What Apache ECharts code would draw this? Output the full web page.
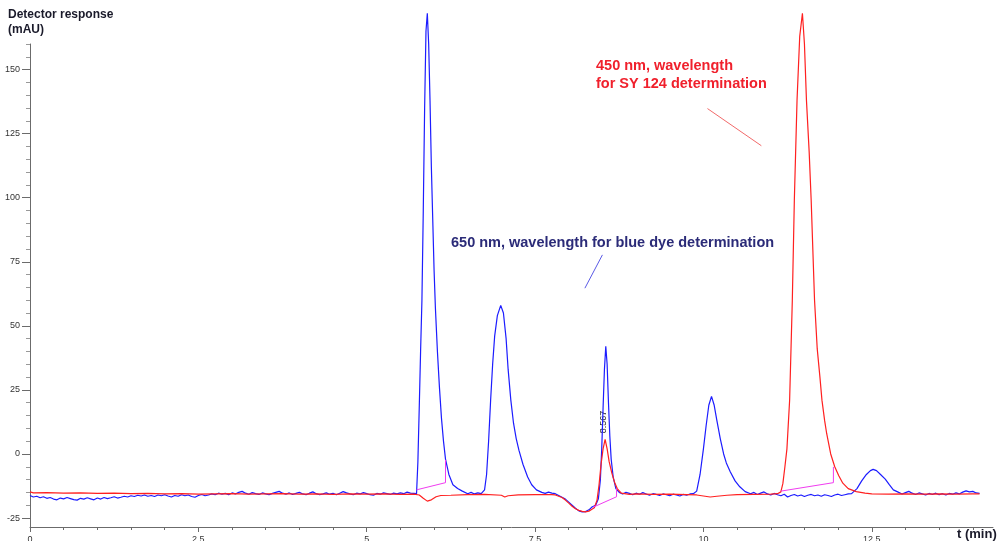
<!DOCTYPE html>
<html>
<head>
<meta charset="utf-8">
<script src="https://cdn.jsdelivr.net/npm/echarts@6/dist/echarts.min.js"></script>
<style>
  html, body { margin: 0; padding: 0; background: #fff; }
  #chart { width: 997px; height: 541px; }
</style>
</head>
<body>
<div id="chart"></div>
<script>
// detector signal at 650 nm (blue dye), [t min, mAU]
const blue650 = [
  [0.00, -16.2], [0.05, -16.8], [0.10, -16.5], [0.15, -17.1], [0.20, -16.7], [0.25, -17.3], [0.30, -17.0], [0.35, -17.6],
  [0.40, -17.9], [0.45, -17.2], [0.50, -17.5], [0.55, -17.0], [0.60, -17.4], [0.65, -17.8], [0.70, -18.0], [0.75, -17.3],
  [0.80, -17.6], [0.85, -17.1], [0.90, -17.5], [0.95, -17.9], [1.00, -17.2], [1.05, -17.6], [1.10, -17.0], [1.15, -17.4],
  [1.20, -17.1], [1.25, -16.7], [1.30, -17.2], [1.35, -16.9], [1.40, -16.5], [1.45, -16.8], [1.50, -16.3], [1.55, -16.6],
  [1.60, -16.1], [1.65, -16.4], [1.70, -16.0], [1.75, -16.5], [1.80, -16.2], [1.85, -16.6], [1.90, -16.0], [1.95, -16.3],
  [2.00, -15.9], [2.05, -16.4], [2.10, -16.8], [2.15, -16.2], [2.20, -16.5], [2.25, -15.9], [2.30, -16.3], [2.35, -16.0],
  [2.40, -16.6], [2.45, -16.9], [2.50, -16.2], [2.55, -15.8], [2.60, -16.3], [2.65, -16.0], [2.70, -15.6], [2.75, -15.9],
  [2.80, -15.3], [2.85, -15.7], [2.90, -15.4], [2.95, -15.9], [3.00, -15.2], [3.05, -15.6], [3.10, -15.0], [3.15, -14.6],
  [3.20, -15.3], [3.25, -15.7], [3.30, -15.1], [3.35, -15.5], [3.40, -15.8], [3.45, -15.2], [3.50, -15.6], [3.55, -15.9],
  [3.60, -15.4], [3.65, -15.0], [3.70, -14.6], [3.75, -15.3], [3.80, -15.7], [3.85, -15.2], [3.90, -15.8], [3.95, -15.4],
  [4.00, -15.0], [4.05, -15.6], [4.10, -15.9], [4.15, -15.3], [4.20, -14.8], [4.25, -15.5], [4.30, -15.9], [4.35, -15.6],
  [4.40, -15.2], [4.45, -15.7], [4.50, -15.4], [4.55, -15.9], [4.60, -15.3], [4.65, -14.7], [4.70, -15.2], [4.75, -15.6],
  [4.80, -15.9], [4.85, -15.3], [4.90, -15.6], [4.95, -15.1], [5.00, -15.5], [5.05, -15.9], [5.10, -16.1], [5.15, -15.4],
  [5.20, -15.7], [5.25, -15.2], [5.30, -15.5], [5.35, -15.8], [5.40, -15.3], [5.45, -15.6], [5.50, -15.2], [5.55, -15.5],
  [5.60, -14.9], [5.65, -15.3], [5.70, -15.4],
  // peak 1
  [5.74, -15.5], [5.76, -3], [5.78, 18], [5.80, 40], [5.82, 60], [5.84, 95], [5.86, 135], [5.88, 165], [5.90, 172],
  [5.92, 160], [5.94, 138], [5.96, 112], [5.98, 92], [6.00, 72], [6.02, 57], [6.05, 40], [6.08, 26], [6.11, 14],
  [6.14, 5], [6.17, -2], [6.22, -8], [6.28, -12], [6.35, -13.5], [6.42, -14.5], [6.50, -15.5],
  [6.55, -15.0], [6.60, -15.6], [6.65, -15.2], [6.70, -15.5],
  // peak 2
  [6.75, -14], [6.78, -8], [6.81, 5], [6.84, 21], [6.87, 35], [6.90, 46], [6.94, 54], [6.99, 58], [7.03, 55],
  [7.07, 45], [7.10, 33], [7.14, 21], [7.18, 12], [7.22, 6], [7.26, 1.5], [7.32, -4], [7.39, -9], [7.45, -12],
  [7.52, -14], [7.60, -15.0], [7.65, -15.4], [7.70, -14.9], [7.75, -15.3], [7.80, -15.5],
  // dip
  [7.85, -16.2], [7.90, -16.9], [7.95, -17.6], [8.00, -18.8], [8.05, -20.0], [8.10, -21.2], [8.15, -22.2], [8.20, -22.6],
  [8.25, -22.5], [8.30, -21.8], [8.35, -20.6], [8.40, -20.0],
  // peak 3
  [8.44, -17.5], [8.47, -10], [8.49, 2], [8.51, 18], [8.53, 33], [8.55, 42], [8.57, 35], [8.59, 20], [8.61, 7],
  [8.63, -2], [8.66, -9], [8.70, -13.5], [8.75, -15.0],
  [8.80, -15.6], [8.85, -15.0], [8.90, -15.4], [8.95, -15.9], [9.00, -15.3], [9.05, -15.7], [9.10, -15.1], [9.15, -15.6],
  [9.20, -16.1], [9.25, -15.5], [9.30, -15.8], [9.35, -16.2], [9.40, -15.6], [9.45, -15.9], [9.50, -16.3], [9.55, -15.7],
  [9.60, -16.0], [9.65, -16.4], [9.70, -15.8], [9.75, -16.1], [9.80, -15.6], [9.85, -15.5],
  // peak 4
  [9.90, -14.5], [9.95, -8], [10.00, 2], [10.04, 11], [10.08, 19], [10.12, 22.5], [10.16, 19], [10.20, 13], [10.25, 6],
  [10.30, 0], [10.34, -3.5], [10.40, -7], [10.47, -10.5], [10.54, -12.8], [10.62, -14.7], [10.70, -15.5],
  [10.75, -15.0], [10.80, -15.8], [10.85, -15.3], [10.90, -14.8], [10.95, -15.6], [11.00, -16.0], [11.05, -15.4],
  [11.10, -15.9], [11.15, -16.3], [11.20, -15.7], [11.25, -16.8], [11.30, -16.2], [11.35, -15.8], [11.40, -16.4],
  [11.45, -16.0], [11.50, -16.6], [11.55, -16.1], [11.60, -15.8], [11.65, -16.3], [11.70, -16.0], [11.75, -16.5],
  [11.80, -15.9], [11.85, -16.2], [11.90, -16.6], [11.95, -16.0], [12.00, -15.7], [12.05, -16.2], [12.10, -15.9],
  [12.15, -15.6], [12.20, -15.5],
  // peak 5
  [12.28, -13.5], [12.35, -10.5], [12.42, -8], [12.48, -6.5], [12.52, -6], [12.57, -6.5], [12.63, -8], [12.70, -9.8],
  [12.76, -12], [12.82, -14], [12.90, -15.0],
  [12.95, -15.6], [13.00, -15.1], [13.05, -14.6], [13.10, -15.3], [13.15, -15.8], [13.20, -15.2], [13.25, -15.6],
  [13.30, -16.0], [13.35, -15.4], [13.40, -15.8], [13.45, -15.3], [13.50, -15.9], [13.55, -15.5], [13.60, -16.0],
  [13.65, -15.4], [13.70, -15.7], [13.75, -15.2], [13.80, -15.6], [13.85, -14.9], [13.90, -14.4], [13.95, -14.8],
  [14.00, -14.6], [14.05, -15.2], [14.10, -15.4]
];

// detector signal at 450 nm (SY 124)
const red450 = [
  [0.00, -14.8], [0.05, -15.2], [0.25, -15.1], [0.50, -15.3], [0.75, -15.2], [1.00, -15.4], [1.25, -15.3], [1.50, -15.5],
  [1.75, -15.4], [2.00, -15.6], [2.25, -15.5], [2.50, -15.7], [2.75, -15.6], [3.00, -15.5], [3.25, -15.7], [3.50, -15.6],
  [3.75, -15.5], [4.00, -15.7], [4.25, -15.6], [4.50, -15.8], [4.75, -15.6], [5.00, -15.7], [5.25, -15.6], [5.50, -15.8],
  [5.70, -15.7], [5.78, -16.0], [5.84, -17.3], [5.90, -18.4], [5.96, -17.9], [6.03, -16.7], [6.10, -16.2], [6.25, -16.1],
  [6.50, -15.9], [6.75, -15.8], [7.00, -16.1], [7.05, -16.8], [7.10, -16.3], [7.25, -16.0], [7.50, -15.9], [7.75, -15.9],
  [7.80, -16.0], [7.85, -16.5], [7.90, -17.0], [7.95, -18.0], [8.00, -19.2], [8.05, -20.4], [8.10, -21.4], [8.15, -22.0],
  [8.20, -22.4], [8.25, -22.6], [8.30, -22.3], [8.35, -21.5], [8.38, -21.0],
  [8.42, -18], [8.45, -12], [8.48, -4], [8.51, 2], [8.54, 5.7], [8.57, 2], [8.60, -3], [8.64, -7.5], [8.68, -11],
  [8.72, -13.5], [8.78, -15.3], [8.90, -15.8], [9.00, -15.6], [9.25, -15.8], [9.50, -15.7], [9.75, -15.9], [9.90, -16.0],
  [10.00, -16.4], [10.10, -16.8], [10.20, -16.5], [10.35, -16.1], [10.50, -15.9], [10.75, -15.8], [11.00, -15.7],
  [11.10, -15.5],
  // main SY 124 peak
  [11.15, -14.8], [11.18, -11.5], [11.21, -5], [11.24, 2], [11.28, 21], [11.32, 60], [11.35, 99], [11.39, 138],
  [11.43, 163], [11.47, 172], [11.50, 160], [11.53, 138], [11.57, 118], [11.60, 99], [11.65, 60], [11.69, 41],
  [11.73, 30], [11.76, 21], [11.80, 13], [11.83, 8], [11.89, 0], [11.95, -5], [12.01, -8.5], [12.07, -11.4],
  [12.15, -13.5], [12.27, -14.7], [12.40, -15.3], [12.50, -15.6], [12.75, -15.7], [13.00, -15.6], [13.25, -15.7],
  [13.50, -15.6], [13.75, -15.7], [14.00, -15.6], [14.10, -15.6]
];

// integration baselines (magenta)
const baselineA = [[5.74, -14.0], [6.17, -11.2], [6.17, -2.3]];
const baselineB = [[8.36, -20.8], [8.71, -16.7], [8.71, -13.5]];
const baselineC = [[11.15, -14.5], [11.93, -11.2], [11.93, -5.0]];

const xTickValues = [0, 2.5, 5, 7.5, 10, 12.5];
const xTickLabels = ['0', '2.5', '5', '7.5', '10', '12.5'];
const xMinorValues = [0.5, 1, 1.5, 2, 3, 3.5, 4, 4.5, 5.5, 6, 6.5, 7, 8, 8.5, 9, 9.5, 10.5, 11, 11.5, 12, 13, 13.5, 14];
const yTickValues = [-25, 0, 25, 50, 75, 100, 125, 150];
const yMinorValues = [-20, -15, -10, -5, 5, 10, 15, 20, 30, 35, 40, 45, 55, 60, 65, 70, 80, 85, 90, 95,
  105, 110, 115, 120, 130, 135, 140, 145, 155, 160];

// annotation pointers, in data units
const bluePointer = [[8.50, 77.7], [8.24, 64.7]];
const redPointer = [[10.06, 134.8], [10.86, 120.3]];

const chart = echarts.init(document.getElementById('chart'));

const axisColor = '#6b6b6b';
const labelFont = { fontFamily: 'Liberation Sans, Arial, sans-serif', fontSize: 9, color: '#333' };

const pointer = (pts, color) => ({
  silent: true,
  symbol: ['none', 'none'],
  animation: false,
  label: { show: false },
  lineStyle: { color: color, width: 1, type: 'solid' },
  data: [[{ coord: pts[0] }, { coord: pts[1] }]]
});

const baselineSeries = (data) => ({
  type: 'line',
  data: data,
  symbol: 'none',
  clip: false,
  lineStyle: { color: '#f03cf0', width: 1 },
  z: 4
});

chart.setOption({
  animation: false,
  backgroundColor: '#fff',
  grid: { left: 30, right: 4, top: 44, bottom: 14, containLabel: false, outerBoundsMode: 'none' },
  xAxis: [
    {
      type: 'value', min: 0, max: 14.3, position: 'bottom',
      splitLine: { show: false },
      axisLine: { onZero: false, lineStyle: { color: axisColor } },
      axisTick: { customValues: xTickValues, length: 5, lineStyle: { color: axisColor } },
      axisLabel: {
        customValues: xTickValues, margin: 8, ...labelFont,
        formatter: (v) => xTickLabels[xTickValues.indexOf(v)] ?? ''
      }
    },
    {
      type: 'value', min: 0, max: 14.3, position: 'bottom',
      splitLine: { show: false },
      axisLine: { show: false, onZero: false },
      axisTick: { customValues: xMinorValues, length: 3, lineStyle: { color: axisColor } },
      axisLabel: { show: false }
    }
  ],
  yAxis: [
    {
      type: 'value', min: -28.5, max: 160, position: 'left',
      splitLine: { show: false },
      axisLine: { show: true, onZero: false, lineStyle: { color: axisColor } },
      axisTick: { show: true, customValues: yTickValues, length: 8, lineStyle: { color: axisColor } },
      axisLabel: { customValues: yTickValues, margin: 10, ...labelFont }
    },
    {
      type: 'value', min: -28.5, max: 160, position: 'left',
      splitLine: { show: false },
      axisLine: { show: false, onZero: false },
      axisTick: { show: true, customValues: yMinorValues, length: 4, lineStyle: { color: '#999' } },
      axisLabel: { show: false }
    }
  ],
  series: [
    {
      name: '650 nm', type: 'line', data: blue650, symbol: 'none', clip: false,
      lineStyle: { color: '#1c1cff', width: 1.2 }, z: 2,
      markLine: pointer(bluePointer, '#5a5ae6')
    },
    {
      name: '450 nm', type: 'line', data: red450, symbol: 'none', clip: false,
      lineStyle: { color: '#ff2020', width: 1.2 }, z: 3,
      markLine: pointer(redPointer, '#f26a6a')
    },
    baselineSeries(baselineA),
    baselineSeries(baselineB),
    baselineSeries(baselineC)
  ],
  graphic: [
    {
      type: 'text', left: 8, top: 7,
      style: {
        text: 'Detector response\n(mAU)', fill: '#1a1a2a', lineHeight: 15,
        font: 'bold 12px "Liberation Sans", Arial, sans-serif'
      }
    },
    {
      type: 'text', left: 957, top: 528,
      style: { text: 't (min)', fill: '#1a1a2a', font: 'bold 13px "Liberation Sans", Arial, sans-serif' }
    },
    {
      type: 'text', left: 451, top: 235,
      style: {
        text: '650 nm, wavelength for blue dye determination', fill: '#2b2b78',
        font: 'bold 14.5px "Liberation Sans", Arial, sans-serif'
      }
    },
    {
      type: 'text', left: 596, top: 57,
      style: {
        text: '450 nm, wavelength\nfor SY 124 determination', fill: '#f0202c', lineHeight: 18,
        font: 'bold 14.5px "Liberation Sans", Arial, sans-serif'
      }
    },
    {
      type: 'text', x: 603.5, y: 422, rotation: Math.PI / 2,
      style: {
        text: '8.567', fill: '#222', align: 'center', verticalAlign: 'middle',
        font: '9px "Liberation Sans", Arial, sans-serif'
      }
    }
  ]
});
</script>
</body>
</html>
